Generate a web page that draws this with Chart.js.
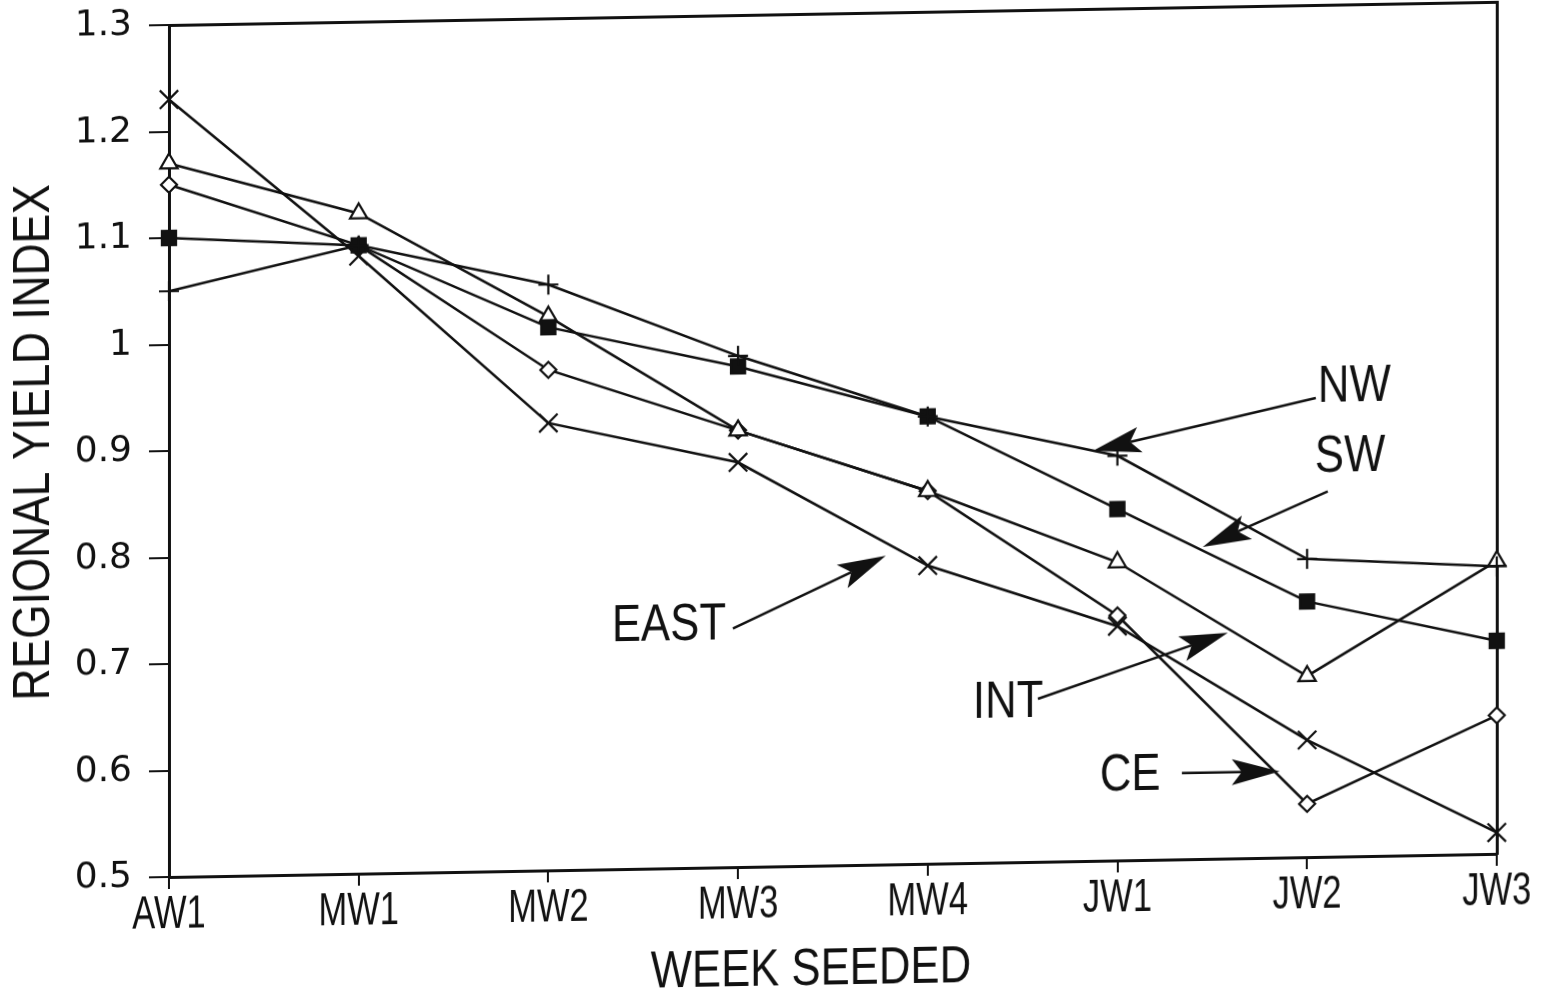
<!DOCTYPE html>
<html>
<head>
<meta charset="utf-8">
<title>Regional Yield Index by Week Seeded</title>
<script src="https://cdn.jsdelivr.net/npm/chart.js@4.4.1/dist/chart.umd.min.js"></script>
<style>
  html, body { margin: 0; padding: 0; background: #fff; overflow: hidden; width: 1541px; height: 998px; }
  /* the plotted sheet sits slightly askew on the page */
  #sheet { position: absolute; left: 0; top: 0; width: 1541px; height: 1040px;
           transform: skewY(-1deg); transform-origin: 169px 877px; }
  canvas { display: block; }
</style>
</head>
<body>
<div id="sheet"><canvas id="chart" width="1541" height="1040" style="width:1541px;height:1040px"></canvas></div>
<script>
// Week seeded (April week 1, May weeks 1-4, June weeks 1-3)
const weeks = ['AW1', 'MW1', 'MW2', 'MW3', 'MW4', 'JW1', 'JW2', 'JW3'];

// Regional yield index per region
const nw   = [1.05, 1.09, 1.05, 0.98, 0.92, 0.88, 0.78, 0.77];
const sw   = [1.10, 1.09, 1.01, 0.97, 0.92, 0.83, 0.74, 0.70];
const east = [1.23, 1.08, 0.92, 0.88, 0.78, 0.72, 0.61, 0.52];
const intr = [1.17, 1.12, 1.02, 0.91, 0.85, 0.78, 0.67, 0.775];
const ce   = [1.15, 1.09, 0.97, 0.91, 0.85, 0.73, 0.55, 0.63];

// Y axis range and step
const yMin = 0.5, yMax = 1.3, yStep = 0.1;

// Region call-outs: label anchor, arrow tail and arrow tip in (week index, index value)
const callouts = [
  { text: 'NW',   at: [6.057, 0.941], tail: [6.046, 0.931], tip: [4.871, 0.885] },
  { text: 'SW',   at: [6.041, 0.875], tail: [6.109, 0.843], tip: [5.450, 0.793] },
  { text: 'EAST', at: [2.335, 0.728], tail: [2.973, 0.724], tip: [3.779, 0.790] },
  { text: 'INT',  at: [4.238, 0.650], tail: [4.581, 0.653], tip: [5.582, 0.712] },
  { text: 'CE',   at: [4.907, 0.579], tail: [5.340, 0.581], tip: [5.856, 0.581] }
];

const INK = '#111';
const NARROW = '"Liberation Sans", Arial, sans-serif';

function narrowText(ctx, text, x, y, size, sx, align, angle) {
  ctx.save();
  ctx.translate(x, y);
  if (angle) ctx.rotate(angle);
  ctx.scale(sx, 1);
  ctx.font = size + 'px ' + NARROW;
  ctx.fillStyle = INK;
  ctx.textAlign = align;
  ctx.textBaseline = 'middle';
  ctx.fillText(text, 0, 0);
  ctx.restore();
}

function arrow(ctx, x0, y0, x1, y1) {
  const ang = Math.atan2(y1 - y0, x1 - x0);
  const headLen = 48, headHalf = 13;
  const bx = x1 - Math.cos(ang) * headLen, by = y1 - Math.sin(ang) * headLen;
  ctx.save();
  ctx.strokeStyle = INK; ctx.fillStyle = INK; ctx.lineWidth = 2.5;
  ctx.beginPath(); ctx.moveTo(x0, y0); ctx.lineTo(bx + Math.cos(ang) * 10, by + Math.sin(ang) * 10); ctx.stroke();
  ctx.beginPath();
  ctx.moveTo(x1, y1);
  ctx.lineTo(bx - Math.sin(ang) * headHalf, by + Math.cos(ang) * headHalf);
  ctx.lineTo(bx + Math.cos(ang) * 10, by + Math.sin(ang) * 10);
  ctx.lineTo(bx + Math.sin(ang) * headHalf, by - Math.cos(ang) * headHalf);
  ctx.closePath(); ctx.fill();
  ctx.restore();
}

const decorations = {
  id: 'decorations',
  afterDraw(chart) {
    const ctx = chart.ctx, xs = chart.scales.x, ys = chart.scales.y, area = chart.chartArea;
    // week labels under the axis
    weeks.forEach((w, i) => narrowText(ctx, w, xs.getPixelForValue(i), area.bottom + 38, 46, 0.75, 'center'));
    // axis titles
    narrowText(ctx, 'WEEK SEEDED', (area.left + area.right) / 2 - 22, area.bottom + 105, 52, 0.84, 'center');
    narrowText(ctx, 'REGIONAL YIELD INDEX', 35, area.top + 415, 52, 0.85, 'center', -Math.PI / 2);
    // region call-outs
    callouts.forEach(c => {
      narrowText(ctx, c.text, xs.getPixelForValue(c.at[0]), ys.getPixelForValue(c.at[1]), 52, 0.84, 'left');
      arrow(ctx, xs.getPixelForValue(c.tail[0]), ys.getPixelForValue(c.tail[1]),
                 xs.getPixelForValue(c.tip[0]),  ys.getPixelForValue(c.tip[1]));
    });
  }
};

function series(label, data, style, radius, fill) {
  return {
    label, data,
    borderColor: INK, borderWidth: 2.5,
    pointStyle: style, pointRadius: radius, pointHoverRadius: radius,
    pointBorderColor: INK, pointBackgroundColor: fill, pointBorderWidth: 2.2,
    tension: 0, fill: false
  };
}

new Chart(document.getElementById('chart'), {
  type: 'line',
  data: {
    labels: weeks,
    datasets: [
      series('NW', nw, 'cross', 10, INK),
      series('SW', sw, 'rect', 10, INK),
      series('EAST', east, 'crossRot', 13, INK),
      series('INT', intr, 'triangle', 10, '#fff'),
      series('CE', ce, 'rectRot', 8, '#fff')
    ]
  },
  options: {
    responsive: false,
    animation: false,
    devicePixelRatio: 1,
    layout: { padding: 0 },
    plugins: { legend: { display: false }, tooltip: { enabled: false }, title: { display: false } },
    events: [],
    scales: {
      x: {
        type: 'category', position: 'bottom', offset: false,
        grid: { display: true, drawOnChartArea: false, drawTicks: true, tickLength: 12, color: INK, lineWidth: 2 },
        border: { display: true, color: INK, width: 3 },
        ticks: { display: false },
        afterFit(s) { s.height = 1040 - 877; s.paddingLeft = 0; s.paddingRight = 0; }
      },
      x2: {
        type: 'category', position: 'top', offset: false, labels: weeks,
        grid: { display: false }, border: { display: true, color: INK, width: 3 },
        ticks: { display: false },
        afterFit(s) { s.height = 25; s.paddingLeft = 0; s.paddingRight = 0; }
      },
      y: {
        type: 'linear', position: 'left', min: yMin, max: yMax,
        grid: { display: true, drawOnChartArea: false, drawTicks: true, tickLength: 20, color: INK, lineWidth: 2 },
        border: { display: true, color: INK, width: 3 },
        ticks: {
          stepSize: yStep, padding: 17, color: INK,
          font: { family: '"DejaVu Sans", sans-serif', size: 36 },
          callback: v => (Math.abs(v - 1) < 1e-9 ? '1' : v.toFixed(1))
        },
        afterFit(s) { s.width = 169; s.paddingTop = 0; s.paddingBottom = 0; }
      },
      y2: {
        type: 'linear', position: 'right', min: yMin, max: yMax,
        grid: { display: false }, border: { display: true, color: INK, width: 3 },
        ticks: { display: false },
        afterFit(s) { s.width = 1541 - 1497; s.paddingTop = 0; s.paddingBottom = 0; }
      }
    }
  },
  plugins: [decorations]
});
</script>
</body>
</html>
